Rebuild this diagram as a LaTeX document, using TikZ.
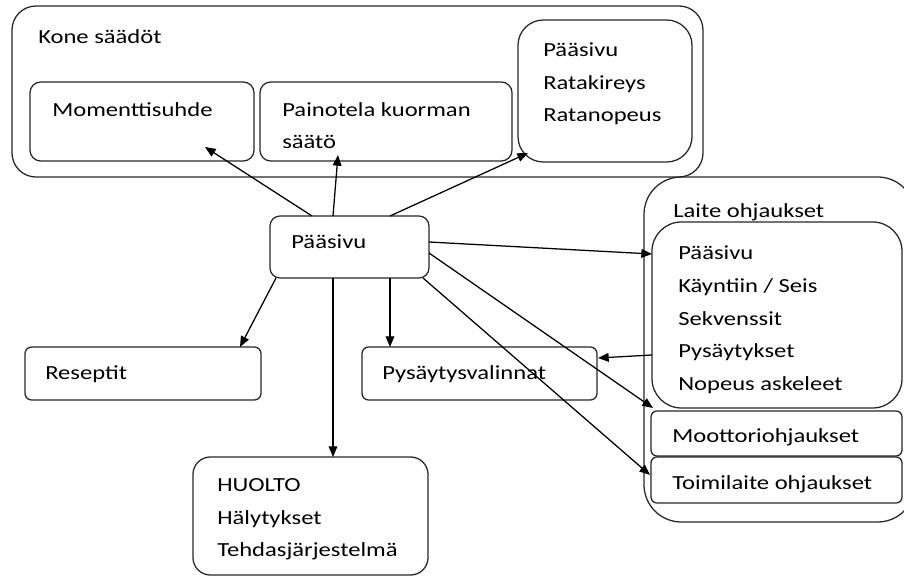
\documentclass[tikz,border=0pt]{standalone}
\usepackage{fontspec}
\setmainfont{Carlito}[FakeStretch=1.23]
\usetikzlibrary{arrows.meta,fit,calc}
\tikzset{
  box/.style={draw=black!85, line width=0.95pt, inner sep=0pt, outer sep=0pt},
  txt/.style={anchor=base west, inner sep=0pt, font=\fontsize{15pt}{18pt}\selectfont, text=black},
  conn/.style={draw=black, line width=0.95pt, -{Triangle[length=8pt,width=6.5pt]}},
  plain/.style={draw=black, line width=0.95pt}
}
\begin{document}
\begin{tikzpicture}[x=0.75pt,y=-0.75pt]
\useasboundingbox (0,0) rectangle (904,577);
\clip (0,0) rectangle (904,577);
% boxes
\node[box, rounded corners=18pt, fit={(12,6) (703,177)}] (kone) {};
\node[box, rounded corners=8pt, fit={(30,82) (254,161)}] (mom) {};
\node[box, rounded corners=8pt, fit={(260,82) (512,161)}] (pain) {};
\node[box, rounded corners=19pt, fit={(518,20) (692,162)}] (rata) {};
\node[box, rounded corners=7.5pt, fit={(270,216) (429,278)}] (main) {};
\node[box, rounded corners=5pt, fit={(25,347) (261,400)}] (res) {};
\node[box, rounded corners=5pt, fit={(362,347) (597,400)}] (pys) {};
\node[box, rounded corners=13pt, fit={(193,457) (428,575)}] (huolto) {};
\node[box, rounded corners=28pt, fit={(644,177) (915,522)}] (laite) {};
\node[box, rounded corners=22pt, fit={(652,222) (902,408)}] (list) {};
\node[box, rounded corners=4.5pt, fit={(651,411) (902,456)}] (moot) {};
\node[box, rounded corners=4.5pt, fit={(651,457) (902,503)}] (toim) {};
% texts
\node[txt] (t1) at (38,44) {Kone säädöt};
\node[txt] (t2) at (52,117) {Momenttisuhde};
\node[txt] (t3) at (282,117) {Painotela kuorman};
\node[txt] (t4) at (282,149) {säätö};
\node[txt] (t5) at (543,57) {Pääsivu};
\node[txt] (t6) at (543,89.5) {Ratakireys};
\node[txt] (t7) at (543,122) {Ratanopeus};
\node[txt] (t8) at (291,249) {Pääsivu};
\node[txt] (t9) at (45,380) {Reseptit};
\node[txt] (t10) at (382,380) {Pysäytysvalinnat};
\node[txt] (t11) at (217,491) {HUOLTO};
\node[txt] (t12) at (217,524) {Hälytykset};
\node[txt] (t13) at (217,556) {Tehdasjärjestelmä};
\node[txt] (t14) at (673,218) {Laite ohjaukset};
\node[txt] (t15) at (678,260) {Pääsivu};
\node[txt] (t16) at (678,293) {Käyntiin / Seis};
\node[txt] (t17) at (678,326) {Sekvenssit};
\node[txt] (t18) at (678,358) {Pysäytykset};
\node[txt] (t19) at (678,391) {Nopeus askeleet};
\node[txt] (t20) at (672,443) {Moottoriohjaukset};
\node[txt] (t21) at (672,489) {Toimilaite ohjaukset};
% connectors
\draw[conn] ($(main.north west)+(42,0)$) -- ($(mom.south west)+(175,-14)$);
\draw[conn] ($(main.north west)+(63,0)$) -- ($(pain.south west)+(78,-6)$);
\draw[conn] ($(main.north west)+(120,0)$) -- ($(rata.south west)+(10,-9)$);
\draw[conn] ($(main.north east)+(0,26)$) -- ($(list.north west)+(0,32)$);
\draw[conn] ($(main.north east)+(0,37)$) -- ($(moot.north west)+(2,-3)$);
\draw[conn] ($(main.south east)+(-6,0)$) -- ($(toim.north west)+(-1,18)$);
\draw[conn] ($(main.south west)+(6,0)$) -- ($(res.north east)+(-21,0)$);
\draw[conn] ($(main.south west)+(63,0)$) -- ($(huolto.north west)+(140,0)$);
\draw[conn] ($(main.south west)+(120,0)$) -- ($(pys.north west)+(28,0)$);
\draw[conn] ($(list.north west)+(0,133)$) -- ($(pys.north east)+(1,11)$);
\end{tikzpicture}
\end{document}
